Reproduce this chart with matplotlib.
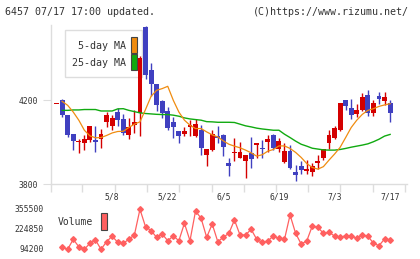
import numpy as np
import matplotlib
matplotlib.use("Agg")
import matplotlib.pyplot as plt
from matplotlib.patches import Rectangle
import matplotlib.transforms as mtransforms

# ---------------- data ----------------
opens = [4184, 4200, 4132, 4038, 4000, 3997, 4010, 4010, 4016, 4094,
         4076, 4144, 4113, 4033, 4081, 4141, 4549, 4343, 4279, 4195,
         4148, 4095, 4052, 4037, 4073, 4029, 4057, 3938, 3962, 4029,
         4033, 3898, 3949, 3925, 3911, 3946, 3986, 3971, 4002, 4033,
         3967, 3906, 3957, 3856, 3887, 3864, 3859, 3902, 3922, 3994,
         4022, 4060, 4200, 4165, 4133, 4152, 4224, 4137, 4219, 4197, 4187]
highs = [4184, 4205, 4132, 4040, 4017, 4033, 4076, 4076, 4065, 4144,
         4132, 4165, 4133, 4116, 4156, 4410, 4557, 4379, 4279, 4200,
         4168, 4121, 4052, 4073, 4105, 4113, 4081, 3965, 4057, 4076,
         4041, 3922, 4021, 4000, 3938, 4025, 3994, 4010, 4033, 4041,
         4021, 3994, 3986, 3890, 3910, 3914, 3898, 3938, 3967, 4057,
         4076, 4187, 4200, 4205, 4181, 4235, 4248, 4200, 4240, 4240, 4200]
lows = [4184, 4121, 4025, 3962, 3946, 3962, 4002, 3954, 3970, 4073,
        4057, 4076, 4032, 4014, 4044, 4030, 4303, 4219, 4149, 4116,
        4057, 4022, 3997, 4029, 4029, 4025, 3938, 3887, 3957, 3997,
        3935, 3840, 3910, 3925, 3830, 3878, 3925, 3925, 3954, 3962,
        3951, 3898, 3871, 3814, 3846, 3846, 3840, 3871, 3914, 3967,
        4013, 4052, 4156, 4110, 4121, 4149, 4124, 4124, 4184, 4176, 4097]
closes = [4184, 4129, 4033, 4006, 4002, 4017, 4076, 4000, 4041, 4129,
          4116, 4108, 4044, 4073, 4095, 4403, 4319, 4276, 4176, 4140,
          4068, 4073, 4030, 4052, 4081, 4086, 3973, 3965, 4041, 4022,
          3978, 3886, 3952, 3951, 3938, 3921, 3994, 3967, 4014, 3973,
          4005, 3957, 3878, 3843, 3867, 3871, 3887, 3910, 3967, 4033,
          4068, 4187, 4173, 4132, 4152, 4216, 4137, 4189, 4208, 4214, 4137]

ma5 = [np.nan, 4195, 4176, 4144, 4105, 4057, 4030, 4021, 4022, 4032,
       4044, 4051, 4052, 4070, 4086, 4097, 4156, 4219, 4248, 4256,
       4267, 4200, 4144, 4105, 4081, 4065, 4065, 4049, 4035, 4025,
       4006, 3990, 3981, 3973, 3962, 3949, 3933, 3940, 3957, 3965,
       3982, 3982, 3970, 3951, 3927, 3898, 3879, 3871, 3883, 3914,
       3943, 3975, 4022, 4070, 4105, 4133, 4152, 4160, 4171, 4178, 4184]
ma25 = [np.nan, 4152, 4152, 4154, 4154, 4156, 4156, 4156, 4149, 4149,
        4149, 4159, 4160, 4152, 4146, 4140, 4137, 4135, 4133, 4132,
        4132, 4129, 4124, 4116, 4111, 4108, 4105, 4098, 4097, 4095,
        4095, 4095, 4094, 4086, 4078, 4073, 4067, 4063, 4060, 4057,
        4057, 4038, 4022, 4005, 3990, 3981, 3971, 3967, 3963, 3962,
        3962, 3965, 3970, 3976, 3981, 3986, 3992, 4002, 4014, 4029, 4037]
volume = [np.nan, 105300, 92200, 157600, 109200, 92200, 131400, 153000, 92200, 141900,
          178000, 137900, 131400, 157600, 185700, 353500, 239900, 213900, 170600, 192200,
          148400, 179100, 148400, 262100, 148400, 342400, 294700, 170600, 257500, 141900,
          170600, 196800, 283600, 185700, 185700, 222900, 157600, 137900, 146500, 179100,
          164000, 157600, 316300, 196800, 126900, 146500, 244400, 235900, 196800, 203300,
          179100, 170600, 181100, 181100, 164000, 185700, 179100, 131400, 116000, 159500, 153000]

date_labels = ["5/8", "5/22", "6/5", "6/19", "7/3", "7/17"]
date_label_pos = [10, 20, 30, 40, 50, 60]
week_ticks = [-1, 4.6, 10.5, 16.3, 22.0, 28.0, 33.7, 39.5, 45.2, 51.0, 56.9, 62.7]
price_ticks = [3800, 4200]
vol_ticks = [94200, 224850, 355500]

# ---------------- style ----------------
RED = "#d40000"
BLUE = "#4040c0"
ORANGE = "#f08c10"
GREEN = "#10aa10"
VOLC = "#ff6060"
TXT = "#333333"
AXC = "#dddddd"
FONT = "DejaVu Sans Mono"
plt.rcParams["font.family"] = [FONT]

W, H = 420, 259
fig = plt.figure(figsize=(W / 100, H / 100), dpi=100)
fig.patch.set_facecolor("white")

L, R = 51, 406.8
ax = fig.add_axes([L / W, 1 - 184 / H, (R - L) / W, (184 - 25) / H])
axv = fig.add_axes([L / W, 1 - 253 / H, (R - L) / W, 50 / H])

n = len(closes)
x = np.arange(n)
o = np.array(opens, float); c = np.array(closes, float)
hi = np.array(highs, float); lo = np.array(lows, float)
up = c >= o
cols = np.where(up, RED, BLUE)

ax.vlines(x, lo, hi, colors=cols, linewidth=1.0, zorder=3)
bottom = np.minimum(o, c)
height = np.maximum(np.abs(c - o), 4)
ax.bar(x, height, bottom=bottom, width=0.88, color=cols, edgecolor="none", zorder=4)

ax.plot(x, ma25, color=GREEN, lw=1.0, zorder=5)
ax.plot(x, ma5, color=ORANGE, lw=0.9, zorder=5)

ax.set_xlim(-1, 63)
ax.set_ylim(3800, 4560)
for s in ["top", "right"]:
    ax.spines[s].set_visible(False)
for s in ["left", "bottom"]:
    ax.spines[s].set_color(AXC)
    ax.spines[s].set_linewidth(1.0)
ax.set_yticks(price_ticks)
ax.set_yticklabels([str(t) for t in price_ticks], fontsize=5.8, color=TXT)
ax.tick_params(axis="y", length=6, color=AXC, pad=3)
ax.set_xticks(week_ticks)
ax.set_xticklabels([])
ax.tick_params(axis="x", length=6, color=AXC, width=1.0)

# date labels between panels
trans = mtransforms.blended_transform_factory(ax.transData, ax.transAxes)
for p, lab in zip(date_label_pos, date_labels):
    ax.text(p, -0.082, lab, transform=trans, ha="center", va="center",
            fontsize=5.8, color=TXT, clip_on=False)

# legend box
ax.add_patch(Rectangle((0.039, 0.673), 0.217, 0.296, transform=ax.transAxes,
                       facecolor="white", edgecolor=AXC, lw=1.0, zorder=1))
ax.text(0.210, 0.868, "5-day MA", transform=ax.transAxes, ha="right", va="center",
        fontsize=7.2, color=TXT, zorder=2)
ax.text(0.210, 0.761, "25-day MA", transform=ax.transAxes, ha="right", va="center",
        fontsize=7.2, color=TXT, zorder=2)
ax.add_patch(Rectangle((0.225, 0.824), 0.017, 0.101, transform=ax.transAxes,
                       facecolor=ORANGE, edgecolor="#444444", lw=0.8, zorder=2))
ax.add_patch(Rectangle((0.225, 0.717), 0.017, 0.101, transform=ax.transAxes,
                       facecolor=GREEN, edgecolor="#444444", lw=0.8, zorder=2))

# volume
axv.plot(x, volume, color=VOLC, lw=0.9, marker="D", markersize=2.9,
         markerfacecolor=VOLC, markeredgecolor=VOLC)
axv.set_xlim(-1, 63)
axv.set_ylim(94200 - 4 * 6532.5, 94200 + 46 * 6532.5)
for s in axv.spines.values():
    s.set_visible(False)
axv.set_xticks([])
axv.set_yticks(vol_ticks)
axv.set_yticklabels([str(t) for t in vol_ticks], fontsize=5.8, color=TXT)
axv.tick_params(axis="y", length=0, pad=5)
axv.text(0.020, 0.62, "Volume", transform=axv.transAxes, ha="left", va="center",
         fontsize=7.0, color=TXT)
axv.add_patch(Rectangle((0.141, 0.46), 0.016, 0.34, transform=axv.transAxes,
                        facecolor=VOLC, edgecolor="#444444", lw=0.8))

# header
fig.text(5 / W, 1 - 12 / H, "6457 07/17 17:00 updated.", ha="left", va="center",
         fontsize=7.2, color=TXT)
fig.text(409 / W, 1 - 12 / H, "(C)https://www.rizumu.net/", ha="right", va="center",
         fontsize=7.2, color=TXT)

fig.savefig("out.png", dpi=100, facecolor="white")
